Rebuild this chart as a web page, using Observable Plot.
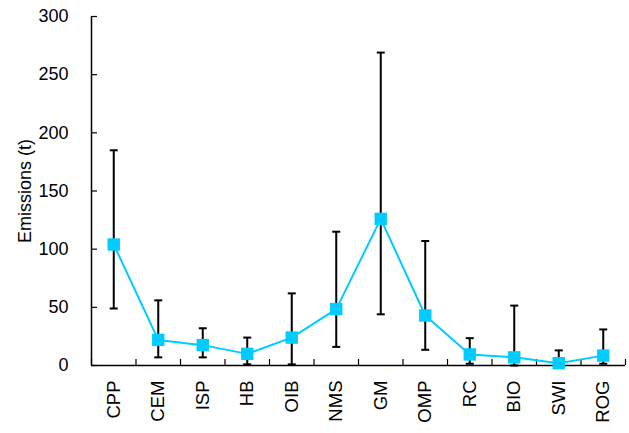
<!DOCTYPE html>
<html><head><meta charset="utf-8">
<script src="https://cdn.jsdelivr.net/npm/d3@7"></script>
<script src="https://cdn.jsdelivr.net/npm/@observablehq/plot@0.6"></script>
<style>body{margin:0;background:#fff} svg{display:block}</style>
</head><body><div id="chart"></div>
<script>
const categories = ["CPP","CEM","ISP","HB","OIB","NMS","GM","OMP","RC","BIO","SWI","ROG"];
const means = [104, 22, 17.5, 10, 24, 48.5, 126, 43, 9.5, 7, 2, 8.5];
const lower = [49, 7, 7, 1, 1, 16, 44, 13.5, 1.5, 0, 0, 1.5];
const upper = [185, 56, 32, 24, 62, 115, 269, 107, 23.5, 51.5, 13, 31];
const yTicks = [0, 50, 100, 150, 200, 250, 300];
const yLabel = "Emissions (t)";

const data = categories.map((c, i) => ({i, cat: c, mean: means[i], lo: lower[i], hi: upper[i]}));
const idx = categories.map((_, i) => i);
const boundaries = d3.range(categories.length + 1).map(k => k - 0.5);
const xDomain = [-0.5, categories.length - 0.5];
const capSymbol = {draw(ctx) { ctx.moveTo(-4, 0); ctx.lineTo(4, 0); }};
const font = "'Liberation Sans', Arial, sans-serif";

const chart = Plot.plot({
  width: 629, height: 433,
  marginLeft: 91, marginRight: 4, marginTop: 16, marginBottom: 68,
  style: {fontFamily: font, fontSize: "18px", color: "#000", background: "#fff", overflow: "visible"},
  x: {domain: xDomain},
  y: {domain: [0, 300]},
  marks: [
    Plot.axisY(yTicks, {tickSize: 0, tickPadding: 23, fontSize: 18, label: yLabel, labelAnchor: "center", labelOffset: 73, labelArrow: "none"}),
    Plot.axisY(yTicks, {text: null, tickSize: 6, dx: 6, label: null, strokeWidth: 1.2}),
    Plot.axisX(idx, {tickSize: 0, tickPadding: 15, tickRotate: -90, fontSize: 18.5, tickFormat: i => categories[i], label: null}),
    Plot.axisX(boundaries, {text: null, tickSize: 6, dy: -6, label: null, strokeWidth: 1.2}),
    Plot.ruleY([0], {strokeWidth: 1.5}),
    Plot.ruleX([xDomain[0]], {strokeWidth: 1.5}),
    Plot.ruleX(data, {x: "i", y1: "lo", y2: "hi", stroke: "#000", strokeWidth: 2}),
    Plot.dot(data, {x: "i", y: "hi", symbol: capSymbol, stroke: "#000", strokeWidth: 2}),
    Plot.dot(data, {x: "i", y: "lo", symbol: capSymbol, stroke: "#000", strokeWidth: 2}),
    Plot.line(data, {x: "i", y: "mean", stroke: "#00CCFF", strokeWidth: 2}),
    Plot.dot(data, {x: "i", y: "mean", symbol: "square", fill: "#00CCFF", r: 7})
  ]
});
document.getElementById("chart").append(chart);
</script>
</body></html>
